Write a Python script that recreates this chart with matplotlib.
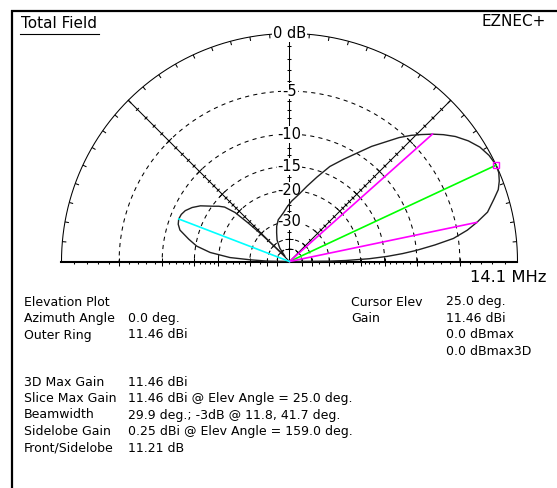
import numpy as np
import matplotlib
matplotlib.use("Agg")
import matplotlib.pyplot as plt
from matplotlib.collections import LineCollection

plt.rcParams["font.family"] = ["DejaVu Sans"]
plt.rcParams["lines.scale_dashes"] = False

# ---- elevation pattern (relative dB, 0 dB = 11.46 dBi) ----
elev_deg = [0, 0.5, 1, 2, 3, 4, 5, 6.5, 8, 10, 11.8, 14, 17, 19, 21, 23, 25,
            28, 31, 34, 37, 39.5, 41.7, 44, 46, 48.5, 51, 54.5, 58, 62, 67, 72,
            77, 82, 88, 92.5, 97, 101, 105, 110, 114, 120, 126, 131, 134, 135,
            136, 137, 138, 140, 142, 144, 148, 151, 154, 156.5, 159, 161.5,
            164, 167.5, 170.6, 173.5, 176.2, 177.5, 179, 180]
gain_db = [-99, -30, -24, -18, -14.5, -12, -10, -7.6, -5.5, -4, -3, -1.9, -1.1,
           -0.55, -0.25, -0.05, 0, -0.15, -0.45, -0.95, -1.6, -2.3, -3, -3.8,
           -4.5, -5.5, -6.7, -8.2, -9.9, -11.6, -13.6, -16.2, -18.6, -20.8,
           -22.8, -24.5, -26.3, -27.5, -28.5, -31, -33.9, -38, -45, -60, -48,
           -40, -30, -24, -19.5, -17, -16, -15.2, -13.3, -12.3, -11.6, -11.3,
           -11.21, -11.4, -11.9, -13.6, -15.2, -18, -23, -30, -40, -99]

max_elev, max_db = 25.0, 0.0
bw_elev = [11.8, 41.7]
bw_db = -3.0
side_elev, side_db = 159.0, 0.25 - 11.46

ring_db = [-5, -10, -15, -20, -30, -40, -50]
ring_labels = ["-5", "-10", "-15", "-20", "-30"]
minor_db = [-1, -2, -3, -4, -6, -7, -8, -9, -11, -12, -13, -14, -16, -17, -18,
            -19, -22, -24, -26, -28, -35]

left_rows = [("Elevation Plot", ""), ("Azimuth Angle", "0.0 deg."),
             ("Outer Ring", "11.46 dBi")]
left_rows2 = [("3D Max Gain", "11.46 dBi"),
              ("Slice Max Gain", "11.46 dBi @ Elev Angle = 25.0 deg."),
              ("Beamwidth", "29.9 deg.; -3dB @ 11.8, 41.7 deg."),
              ("Sidelobe Gain", "0.25 dBi @ Elev Angle = 159.0 deg."),
              ("Front/Sidelobe", "11.21 dB")]
right_rows = [("Cursor Elev", "25.0 deg."), ("Gain", "11.46 dBi"),
              ("", "0.0 dBmax"), ("", "0.0 dBmax3D")]


def arrl(db):
    """ARRL log scale: radius shrinks by 0.89 for every 2 dB."""
    return 0.89 ** (-np.asarray(db, dtype=float) / 2.0)


def pol(theta_deg, r):
    t = np.radians(np.asarray(theta_deg, dtype=float))
    return np.asarray(r) * np.cos(t), np.asarray(r) * np.sin(t)


W, H = 557, 488
CX, CY, R = 289.5, 261.5, 228.0
fig = plt.figure(figsize=(W / 100, H / 100), dpi=100)
fig.patch.set_facecolor("white")

ax = fig.add_axes([0, 0, 1, 1])
ax.set_xlim(-CX / R, (W - CX) / R)
ax.set_ylim(-(H - CY) / R, CY / R)
ax.axis("off")

px = 1.0 / R  # one pixel in data units
LW = 0.75

# outer ring and its 5-degree ticks
th = np.linspace(0, 180, 721)
x, y = pol(th, 1.0)
ax.plot(x, y, color="black", lw=LW, zorder=2)
segs = []
for a in range(5, 180, 5):
    x0, y0 = pol(a, 1.0)
    x1, y1 = pol(a, 1.0 - 4 * px)
    segs.append([(x0, y0), (x1, y1)])

# dashed dB rings
for db in ring_db:
    x, y = pol(th, arrl(db))
    ax.plot(x, y, color="black", lw=LW, linestyle=(0, (3.0, 3.0)), zorder=2)

# baseline and radial spokes
ax.plot([-1, 1], [0, 0], color="black", lw=1.5, zorder=3)
for a in (45, 90, 135):
    x, y = pol([a, a], [0, 1])
    ax.plot(x, y, color="black", lw=LW, zorder=2)

# dB ticks along the spokes
for a in (0, 45, 90, 135, 180):
    ux, uy = np.cos(np.radians(a)), np.sin(np.radians(a))
    nx, ny = -uy, ux
    for db, big in [(d, False) for d in minor_db] + [(d, True) for d in ring_db]:
        r = arrl(db)
        cx, cy = r * ux, r * uy
        if a in (0, 180):
            lo, hi = (-4, 4) if big else (-2.5, 0)
            segs.append([(cx, cy + lo * px), (cx, cy + hi * px)])
        else:
            h = 4 if big else 2
            segs.append([(cx - nx * h * px, cy - ny * h * px),
                         (cx + nx * h * px, cy + ny * h * px)])
ax.add_collection(LineCollection(segs, colors="black", linewidths=LW, zorder=3))

# ring labels on the vertical spoke
lab_kw = dict(ha="center", va="center", fontsize=10.5, zorder=5,
              bbox=dict(facecolor="white", edgecolor="none", pad=0.6))
ax.text(0, 1.0, "0 dB", **lab_kw)
for db, lab in zip(ring_db, ring_labels):
    ax.text(0, arrl(db), lab, **lab_kw)

# pattern
x, y = pol(elev_deg, arrl(gain_db))
ax.plot(x, y, color="#202020", lw=1.0, zorder=6)

# cursor, beamwidth and sidelobe markers
x, y = pol([0, max_elev], [0, arrl(max_db)])
ax.plot(x, y, color="#00ff00", lw=1.2, zorder=7)
for e in bw_elev:
    x, y = pol([0, e], [0, arrl(bw_db)])
    ax.plot(x, y, color="#ff00ff", lw=1.2, zorder=7)
x, y = pol([0, side_elev], [0, arrl(side_db)])
ax.plot(x, y, color="#00ffff", lw=1.2, zorder=7)
x, y = pol(max_elev, arrl(max_db))
ax.plot([x], [y], marker="s", ms=4, mfc="none", mec="#ff00ff", mew=1.0, zorder=8)

# ---- overlay in pixel coordinates: frame and text ----
ov = fig.add_axes([0, 0, 1, 1], facecolor="none")
ov.set_xlim(0, W)
ov.set_ylim(H, 0)
ov.axis("off")
ov.plot([12, 12], [10, H], color="black", lw=1.6, solid_capstyle="butt")
ov.plot([11, W], [11, 11], color="black", lw=1.6, solid_capstyle="butt")

ov.text(21, 23, "Total Field", fontsize=11, va="center", ha="left")
ov.plot([20, 99], [34, 34], color="black", lw=0.8)
ov.text(546, 21, "EZNEC+", fontsize=11, va="center", ha="right")
ov.text(547, 278, "14.1 MHz", fontsize=11.8, va="center", ha="right")

fs = 9
y0, dy = 302, 16.5
for i, (lab, val) in enumerate(left_rows):
    ov.text(24, y0 + i * dy, lab, fontsize=fs, va="center")
    ov.text(128, y0 + i * dy, val, fontsize=fs, va="center")
y1 = 382
for i, (lab, val) in enumerate(left_rows2):
    ov.text(24, y1 + i * dy, lab, fontsize=fs, va="center")
    ov.text(128, y1 + i * dy, val, fontsize=fs, va="center")
for i, (lab, val) in enumerate(right_rows):
    ov.text(351, y0 + i * dy, lab, fontsize=fs, va="center")
    ov.text(446, y0 + i * dy, val, fontsize=fs, va="center")

fig.savefig("out.png", dpi=100, facecolor="white")
